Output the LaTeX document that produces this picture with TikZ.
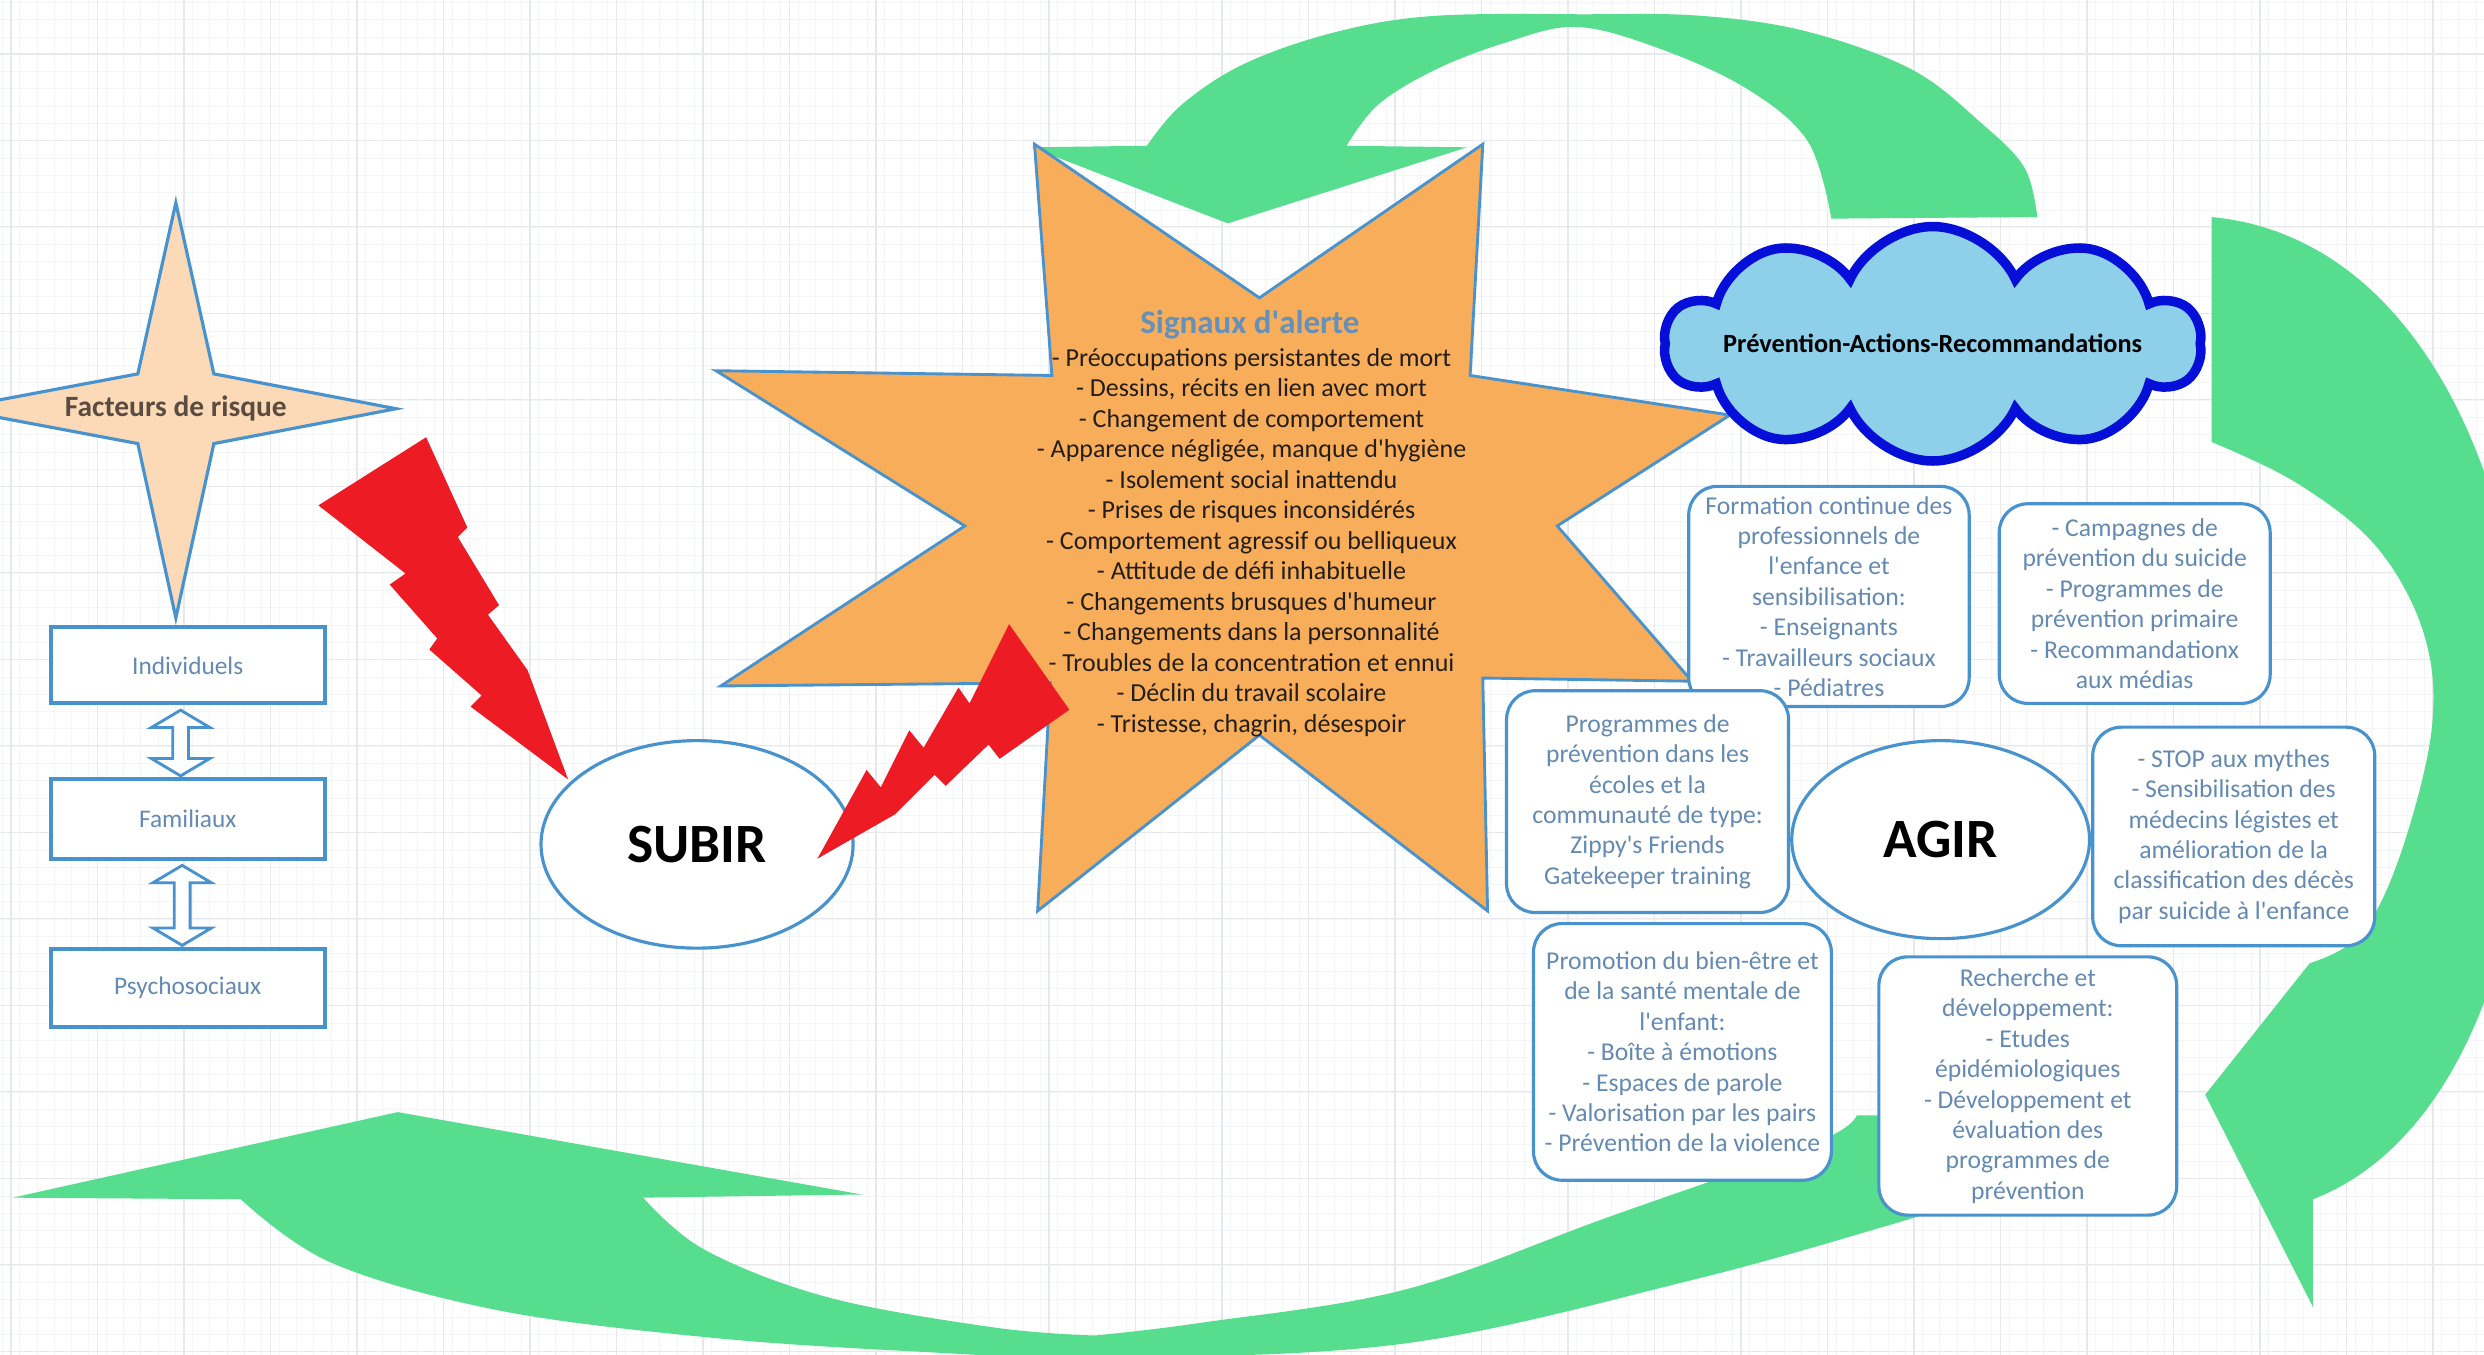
\documentclass[tikz,border=0pt]{standalone}
\usepackage{fontspec}
\setmainfont{Carlito}
\usetikzlibrary{shapes.geometric,shapes.symbols,calc}

\definecolor{gridminor}{RGB}{244,245,247}
\definecolor{gridmajor}{RGB}{230,232,236}
\definecolor{arrowgreen}{RGB}{86,221,141}
\definecolor{starorange}{RGB}{248,173,90}
\definecolor{peach}{RGB}{252,218,184}
\definecolor{lineblue}{RGB}{72,146,206}
\definecolor{textblue}{RGB}{100,138,178}
\definecolor{titleblue}{RGB}{100,145,185}
\definecolor{cloudfill}{RGB}{142,208,234}
\definecolor{cloudline}{RGB}{5,15,215}
\definecolor{boltred}{RGB}{237,28,36}
\definecolor{darktext}{RGB}{35,30,26}
\definecolor{brownish}{RGB}{90,76,64}

\newcommand{\myq}{\textquotesingle}
\newcommand{\mydblarrow}[2]{%
  \draw[dblarr] (#1) -- ++(18.5,11) -- ++(-13.5,0) -- ($(#2)+(5,-11)$) -- ++(13.5,0) -- (#2)
    -- ++(-18.5,-11) -- ++(13.5,0) -- ($(#1)+(-5,11)$) -- ++(-13.5,0) -- cycle;}

\begin{document}
\begin{tikzpicture}[x=1pt,y=-1pt,
  sqbox/.style={draw=lineblue, line width=2.5pt, fill=white, minimum width=173pt, inner sep=0pt,
    text=textblue, font=\fontsize{16}{19}\selectfont},
  rbox/.style={draw=lineblue, line width=2pt, fill=white, rounded corners=18pt, inner sep=0pt,
    align=center, text=textblue, font=\fontsize{16.2}{19.2}\selectfont},
  oval/.style={ellipse, draw=lineblue, line width=2pt, fill=white, inner sep=0pt,
    font=\fontsize{35}{40}\selectfont\bfseries, text=black},
  dblarr/.style={draw=lineblue, line width=1.8pt, fill=white, line join=miter},
  bolt/.style={fill=boltred},
  greenarrow/.style={fill=arrowgreen}]

\useasboundingbox (0,0) rectangle (1568,855);
\clip (0,0) rectangle (1568,855);
\fill[white] (0,0) rectangle (1568,855);

% grid
\foreach \i in {0,...,144} {\draw[gridminor, line width=0.6pt] ({1.5+\i*10.92},0) -- ++(0,855);}
\foreach \i in {0,...,79} {\draw[gridminor, line width=0.6pt] (0,{1.5+\i*10.92}) -- ++(1568,0);}
\foreach \i in {0,...,29} {\draw[gridmajor, line width=0.8pt] ({7+\i*54.6},0) -- ++(0,855);}
\foreach \i in {0,...,16} {\draw[gridmajor, line width=0.8pt] (0,{-20.6+\i*54.6}) -- ++(1568,0);}

% green arrows
\fill[greenarrow] plot[smooth, tension=0.6] coordinates {(1286,137) (1278,106) (1251,78) (1207,44) (1141,20) (1074,10) (1000,9) (906,10) (844,20) (786,40) (746,66) (724,92)}
  -- (651,93) -- (775,141) -- (926,93) -- (850,92)
  -- plot[smooth, tension=0.6] coordinates {(850,92) (870,66) (906,44) (950,27) (994,17) (1043,29) (1101,55) (1141,89) (1156,138)} -- cycle;

\fill[greenarrow] (1396,137) .. controls (1640,160) and (1660,680) .. (1460,757) -- (1460,825) -- (1392,691) -- (1458,608)
  -- plot[smooth, tension=0.6] coordinates {(1458,608) (1490,590) (1515,540) (1535,460) (1530,400) (1500,345) (1450,305) (1396,279)} -- cycle;

\fill[greenarrow] (8,756) -- (251,702) -- (544,754) -- (406,756)
  -- plot[smooth, tension=0.6] coordinates {(406,756) (445,789) (523,819) (628,838) (691,843)}
  -- plot[smooth, tension=0.6] coordinates {(691,843) (758,835) (887,814) (1016,768) (1145,722) (1172,704)}
  -- (1240,704) -- (1240,758)
  -- plot[smooth, tension=0.6] coordinates {(1240,758) (1197,772) (1068,808) (887,848) (700,857) (576,853) (445,844) (314,827) (209,797) (152,757)} -- cycle;

% four-point star
\draw[fill=peach, draw=lineblue, line width=2pt] (111,128) -- (135,236) -- (250,258) -- (135,280) -- (111,390) -- (87,280) -- (-30,258) -- (87,236) -- cycle;
\node[font=\fontsize{18.6}{22}\selectfont\bfseries, text=brownish] (facteurs) at (111,258) {Facteurs de risque};

% left boxes
\node[sqbox, minimum height=48pt] (ind) at (118.5,420) {Individuels};
\node[sqbox, minimum height=50pt] (fam) at (118.5,517) {Familiaux};
\node[sqbox, minimum height=49pt] (psy) at (118.5,623.5) {Psychosociaux};
\coordinate (a1) at ($(ind.south)+(-4.5,3)$);
\coordinate (a2) at ($(fam.north)+(-4.5,-1)$);
\coordinate (b1) at ($(fam.south)+(-3.5,3)$);
\coordinate (b2) at ($(psy.north)+(-3.5,-1)$);
\mydblarrow{a1}{a2}
\mydblarrow{b1}{b2}

% orange star
\draw[fill=starorange, draw=lineblue, line width=1.8pt] (653,91) -- (795,188) -- (936,91) -- (928,237) -- (1092,262) -- (983,332) -- (1068,430) -- (936,428) -- (939,575) -- (795,464) -- (655,575) -- (663,431) -- (455,433) -- (609,332) -- (452,234) -- (664,237) -- cycle;
\node[font=\fontsize{20.8}{24}\selectfont\bfseries, text=titleblue] (sigtitle) at (789,205) {Signaux d\myq alerte};
\node[align=center, font=\fontsize{16.4}{19.25}\selectfont, text=darktext, inner sep=0pt] (signaux) at (790,342.5) {- Préoccupations persistantes de mort\\- Dessins, récits en lien avec mort\\- Changement de comportement\\- Apparence négligée, manque d\myq hygiène\\- Isolement social inattendu\\- Prises de risques inconsidérés\\- Comportement agressif ou belliqueux\\- Attitude de défi inhabituelle\\- Changements brusques d\myq humeur\\- Changements dans la personnalité\\- Troubles de la concentration et ennui\\- Déclin du travail scolaire\\- Tristesse, chagrin, désespoir};

% cloud
\node[cloud, cloud puffs=10, cloud puff arc=130, aspect=2.3, draw=cloudline, line width=6pt, fill=cloudfill,
  minimum width=338pt, minimum height=148pt, inner sep=0pt] (cloud) at (1220,217) {};
\node[font=\fontsize{16.6}{19}\selectfont\bfseries, text=black] (cloudtext) at (cloud.center) {Prévention-Actions-Recommandations};

% rounded boxes
\node[rbox, minimum width=177pt, minimum height=139pt] (formation) at (1154.5,376.5) {Formation continue des\\professionnels de\\l\myq enfance et\\sensibilisation:\\- Enseignants\\- Travailleurs sociaux\\- Pédiatres};
\node[rbox, minimum width=171pt, minimum height=126pt] (campagnes) at (1347.5,381) {- Campagnes de\\prévention du suicide\\- Programmes de\\prévention primaire\\- Recommandationx\\aux médias};
\node[rbox, minimum width=178pt, minimum height=140pt] (programmes) at (1040,506) {Programmes de\\prévention dans les\\écoles et la\\communauté de type:\\Zippy\myq s Friends\\Gatekeeper training};
\node[rbox, minimum width=178pt, minimum height=138pt] (stop) at (1410,528) {- STOP aux mythes\\- Sensibilisation des\\médecins légistes et\\amélioration de la\\classification des décès\\par suicide à l\myq enfance};
\node[rbox, minimum width=188pt, minimum height=162pt] (promotion) at (1062,664) {Promotion du bien-être et\\de la santé mentale de\\l\myq enfant:\\- Boîte à émotions\\- Espaces de parole\\- Valorisation par les pairs\\- Prévention de la violence};
\node[rbox, minimum width=188pt, minimum height=163pt] (recherche) at (1280,685.5) {Recherche et\\développement:\\- Etudes\\épidémiologiques\\- Développement et\\évaluation des\\programmes de\\prévention};

% ellipses
\node[oval, minimum width=197pt, minimum height=131pt] (subir) at (440,533) {SUBIR};
\node[oval, minimum width=188pt, minimum height=125pt] (agir) at (1225,530) {AGIR};

% lightning bolts
\fill[bolt] (269,276) -- (295,333) -- (289,339) -- (315,382) -- (308,388) -- (333,423) -- (358.6,492) -- (297,446) -- (304,439) -- (271,410) -- (276,403) -- (246,369) -- (256,362) -- (201,319) -- cycle;
\fill[bolt] (516,542) -- (547,486) -- (556,497) -- (574,461) -- (583,472) -- (605,434) -- (612,444) -- (637,394) -- (675,448) -- (631,479) -- (624,470) -- (597,496) -- (590,489) -- (565,514) -- cycle;
\end{tikzpicture}
\end{document}
